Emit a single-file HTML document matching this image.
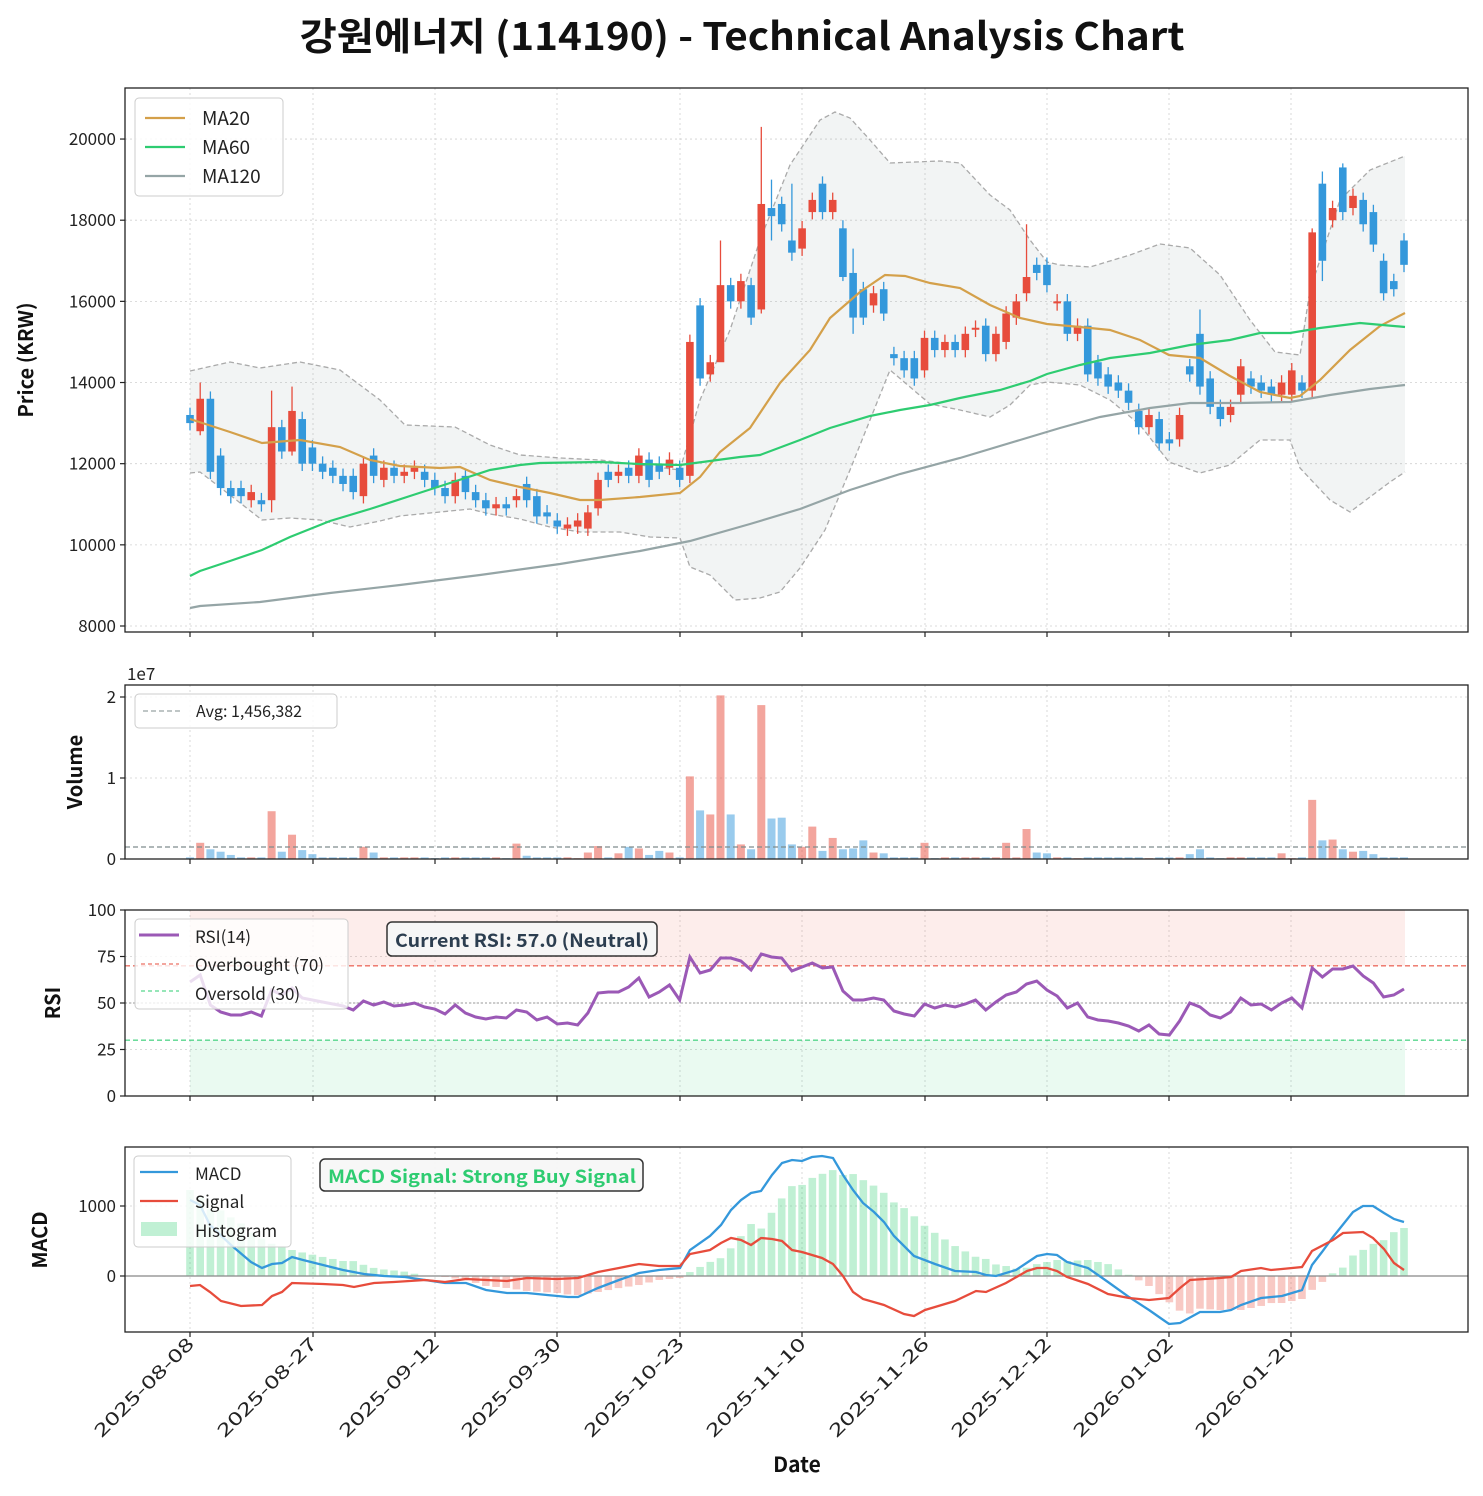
<!DOCTYPE html>
<html><head><meta charset="utf-8"><style>
body{margin:0;background:#fff}
svg text{font-family:"Noto Sans CJK KR","Liberation Sans",sans-serif}
</style></head><body>
<svg id="s" width="1483" height="1491" xmlns="http://www.w3.org/2000/svg"></svg>
<script>
const S=document.getElementById('s');let h='';
const N=120,x0=190,dx=(1404-190)/119;
const X=i=>x0+i*dx;
const py=p=>626-(p-8000)*0.04058;
const C=[[13200,13000],[12800,13600],[13600,11800],[12200,11400],[11400,11200],[11400,11200],[11100,11300],[11100,11000],[11100,12900],[12900,12300],[12300,13300],[13100,12000],[12400,12000],[12000,11800],[11900,11700],[11700,11500],[11700,11300],[11200,12000],[12200,11700],[11600,11900],[11900,11700],[11700,11800],[11800,11900],[11800,11600],[11600,11400],[11400,11200],[11200,11600],[11700,11300],[11300,11100],[11100,10900],[10900,11000],[11000,10900],[11100,11200],[11500,11100],[11200,10700],[10800,10700],[10600,10450],[10400,10500],[10450,10600],[10400,10800],[10900,11600],[11800,11600],[11700,11800],[11900,11700],[11700,12200],[12100,11600],[12000,11800],[11900,12100],[11900,11600],[11700,15000],[15900,14100],[14200,14500],[14500,16400],[16400,16000],[16000,16500],[16400,15600],[15800,18400],[18300,18100],[18400,17900],[17500,17200],[17300,17800],[18200,18500],[18900,18200],[18200,18500],[17800,16600],[16700,15600],[16300,15600],[15900,16200],[16300,15700],[14700,14600],[14600,14300],[14600,14100],[14300,15100],[15100,14800],[14800,15000],[15000,14800],[14800,15200],[15300,15350],[15400,14700],[14700,15200],[15000,15700],[15600,16000],[16200,16600],[16900,16700],[16900,16400],[15950,16000],[16000,15200],[15200,15400],[15400,14200],[14500,14100],[14200,13900],[14000,13800],[13800,13500],[13300,12900],[12900,13200],[13100,12500],[12600,12500],[12600,13200],[14400,14200],[15200,13900],[14100,13400],[13400,13100],[13200,13400],[13700,14400],[14100,13900],[14000,13800],[13900,13700],[13700,14000],[13700,14300],[14000,13800],[13800,17700],[18900,17000],[18000,18300],[19300,18200],[18300,18600],[18500,17900],[18200,17400],[17000,16200],[16500,16300],[17500,16900]];
const HL={1:[14000,12700],8:[13800,10800],10:[13900,12200],52:[17500,15200],56:[20300,15700],57:[19000,17500],59:[18900,17000],64:[18000,16500],65:[17300,15200],82:[17900,16000],99:[15800,13700],110:[17800,13600],111:[19200,16500],113:[19400,18000]};
function pl(pts,st){return `<polyline fill="none" points="${pts.map(p=>p.join(',')).join(' ')}" ${st}/>`}
function poly(pts,st){return `<polygon points="${pts.map(p=>p.join(',')).join(' ')}" ${st}/>`}
const P=[[88,632],[685,859],[910,1096],[1147,1332]];
const L=125,R=1468,ticks=[[190,'2025-08-08'],[313,'2025-08-27'],[435,'2025-09-12'],[557,'2025-09-30'],[680,'2025-10-23'],[802,'2025-11-10'],[925,'2025-11-26'],[1047,'2025-12-12'],[1169,'2026-01-02'],[1291,'2026-01-20']];
const grid='stroke="#d0d0d0" stroke-width="0.8" stroke-dasharray="2,3"';
function hg(y){h+=`<line x1="${L}" x2="${R}" y1="${y}" y2="${y}" ${grid}/>`}
P.forEach(([t,b])=>{ticks.forEach(([x])=>h+=`<line x1="${x}" x2="${x}" y1="${t}" y2="${b}" ${grid}/>`)});
const up=[[190,371],[230,362],[260,368],[300,362],[340,370],[380,400],[405,425],[455,427],[490,445],[520,455],[560,458],[600,460],[640,465],[680,470],[700,400],[730,330],[760,240],[790,165],[820,120],[835,112],[850,118],[870,140],[890,163],[940,161],[960,163],[990,195],[1010,210],[1030,240],[1047,262],[1060,265],[1090,267],[1130,255],[1160,244],[1190,248],[1220,275],[1250,320],[1275,352],[1300,355],[1310,290],[1340,200],[1370,170],[1405,156]];
const lo=[[190,473],[200,472],[230,495],[262,520],[290,518],[320,520],[350,527],[380,521],[400,516],[440,512],[470,509],[490,514],[520,519],[550,527],[580,532],[620,532],[650,537],[680,538],[690,567],[710,575],[735,600],[760,598],[780,592],[800,568],[825,530],[850,470],[870,420],[890,370],[930,404],[960,410],[990,417],[1010,405],[1030,385],[1047,382],[1080,385],[1110,400],[1140,425],[1169,462],[1200,473],[1230,465],[1260,440],[1290,440],[1300,468],[1330,500],[1350,512],[1370,497],[1390,482],[1405,472]];
[8000,10000,12000,14000,16000,18000,20000].forEach(v=>hg(py(v)));
h+=poly(up.concat(lo.slice().reverse()),'fill="#95a5a6" fill-opacity="0.12"');
h+=pl(up,'stroke="#aaa" stroke-width="1.3" stroke-dasharray="5,3"')+pl(lo,'stroke="#aaa" stroke-width="1.3" stroke-dasharray="5,3"');
C.forEach(([o,c],i)=>{const x=X(i),r=c>=o,col=r?'#e74c3c':'#3498db';let [hi,lw]=HL[i]||[Math.max(o,c)+180,Math.min(o,c)-180];
h+=`<line x1="${x}" x2="${x}" y1="${py(hi)}" y2="${py(lw)}" stroke="${col}" stroke-width="1.3"/>`;
const y1=py(Math.max(o,c)),y2=py(Math.min(o,c));h+=`<rect x="${x-3.8}" y="${y1}" width="7.6" height="${Math.max(1.5,y2-y1)}" fill="${col}"/>`});
const ma20=[[190,419],[230,432],[262,443],[300,440],[340,447],[370,460],[400,466],[440,468],[460,467],[490,480],[520,487],[550,493],[580,500],[600,500],[640,497],[680,493],[700,477],[720,452],[750,428],[780,383],[810,350],[830,318],[860,292],[885,275],[905,276],[930,283],[960,288],[990,305],[1020,318],[1047,324],[1080,327],[1110,330],[1140,340],[1169,355],[1200,358],[1230,376],[1260,392],[1290,398],[1300,396],[1320,380],[1350,350],[1380,326],[1405,313]];
const ma60=[[190,576],[200,571],[230,561],[262,550],[290,537],[330,521],[370,509],[410,496],[450,483],[490,470],[520,465],[540,463],[600,462],[640,464],[680,465],[710,461],[740,457],[760,455],[800,440],[830,428],[870,416],[900,410],[930,405],[960,398],[1000,390],[1030,381],[1047,374],[1080,365],[1110,358],[1150,353],[1190,345],[1230,340],[1260,333],[1290,333],[1320,328],[1360,323],[1405,327]];
const ma120=[[190,608],[200,606],[260,602],[330,593],[400,585],[480,575],[560,564],[640,551],[690,541],[750,524],[800,509],[850,490],[900,474],[960,458],[1020,440],[1060,428],[1100,417],[1150,408],[1190,403],[1240,403],[1290,402],[1330,395],[1370,389],[1405,385]];
h+=pl(ma20,'stroke="#d4a04a" stroke-width="2.2"')+pl(ma60,'stroke="#2ecc71" stroke-width="2.2"')+pl(ma120,'stroke="#95a5a6" stroke-width="2.2"');
h+=`<rect x="135" y="98" width="148" height="98" rx="4" fill="#fff" fill-opacity="0.85" stroke="#ccc"/>`;
[['MA20','#d4a04a'],['MA60','#2ecc71'],['MA120','#95a5a6']].forEach(([t,c],k)=>{const y=118+k*29;h+=`<line x1="145" x2="185" y1="${y}" y2="${y}" stroke="${c}" stroke-width="2.2"/><text x="202" y="${y+7}" font-size="19" fill="#222">${t}</text>`});
const vy=v=>859-v*8.1e-6;[0,1e7,2e7].forEach(v=>hg(vy(v)));
const VO={1:2e6,2:1.2e6,3:9e5,4:5e5,8:5.9e6,9:9e5,10:3e6,11:1.1e6,12:6e5,17:1.5e6,18:8e5,32:1.9e6,33:4e5,39:8e5,40:1.6e6,42:7e5,43:1.5e6,44:1.3e6,45:5e5,46:1e6,47:8e5,49:1.02e7,50:6e6,51:5.5e6,52:2.02e7,53:5.5e6,54:1.8e6,55:1.2e6,56:1.9e7,57:5e6,58:5.1e6,59:1.8e6,60:1.5e6,61:4e6,62:1e6,63:2.6e6,64:1.2e6,65:1.3e6,66:2.3e6,67:8e5,68:7e5,72:2e6,80:2e6,82:3.7e6,83:8e5,84:7e5,98:6e5,99:1.2e6,107:7e5,110:7.3e6,111:2.3e6,112:2.4e6,113:1.2e6,114:9e5,115:1e6,116:6e5};
C.forEach(([o,c],i)=>{const v=VO[i]||(i%7==3?1e5:2e5);const x=X(i);h+=`<rect x="${x-4}" y="${vy(v)}" width="8" height="${859-vy(v)}" fill="${c>=o?'#e74c3c':'#3498db'}" fill-opacity="0.5"/>`});
h+=`<line x1="${L}" x2="${R}" y1="847" y2="847" stroke="#7f8c8d" stroke-width="1.2" stroke-dasharray="5,3"/>`;
h+=`<rect x="135" y="694" width="202" height="34" rx="4" fill="#fff" fill-opacity="0.85" stroke="#ccc"/><line x1="143" x2="180" y1="711" y2="711" stroke="#7f8c8d" stroke-dasharray="5,3"/><text x="196" y="717" font-size="16" fill="#222">Avg: 1,456,382</text>`;
h+=`<text x="127" y="680" font-size="17" fill="#222">1e7</text>`;
const ry=v=>1096-v*1.86;[0,25,50,75,100].forEach(v=>hg(ry(v)));
h+=`<rect x="190" y="${ry(100)}" width="1215" height="${ry(70)-ry(100)}" fill="#e74c3c" fill-opacity="0.1"/><rect x="190" y="${ry(30)}" width="1215" height="${ry(0)-ry(30)}" fill="#2ecc71" fill-opacity="0.1"/>`;
h+=`<line x1="${L}" x2="${R}" y1="${ry(70)}" y2="${ry(70)}" stroke="#e74c3c" stroke-opacity="0.8" stroke-width="1.3" stroke-dasharray="5,3"/><line x1="${L}" x2="${R}" y1="${ry(30)}" y2="${ry(30)}" stroke="#2ecc71" stroke-opacity="0.8" stroke-width="1.3" stroke-dasharray="5,3"/><line x1="${L}" x2="${R}" y1="${ry(50)}" y2="${ry(50)}" stroke="#999" stroke-width="1" stroke-dasharray="2,2"/>`;
const RS=[982,975,1005,1012,1015,1015,1012,1016,990,995,988,998,1000,1002,1004,1006,1010,1001,1005,1002,1006,1005,1003,1007,1009,1014,1005,1013,1017,1019,1017,1018,1010,1012,1020,1017,1024,1023,1025,1013,993,992,992,987,978,997,992,985,1000,957,973,970,958,958,961,970,954,957,958,971,967,963,968,967,991,1000,1000,998,1000,1011,1014,1016,1004,1008,1005,1007,1004,1000,1010,1002,995,992,984,981,990,996,1008,1003,1017,1020,1021,1023,1026,1031,1025,1034,1035,1021,1003,1007,1015,1018,1012,998,1005,1004,1010,1003,998,1008,968,977,969,969,966,976,983,997,995,989];
h+=pl(RS.map((y,i)=>[X(i),y]),'stroke="#9b59b6" stroke-width="3"');
h+=`<rect x="135" y="919" width="213" height="90" rx="4" fill="#fff" fill-opacity="0.8" stroke="#ccc"/>`;
h+=`<line x1="139" x2="179" y1="935" y2="935" stroke="#9b59b6" stroke-width="3"/><text x="195" y="943" font-size="17" fill="#222">RSI(14)</text>`;
h+=`<line x1="141" x2="179" y1="964" y2="964" stroke="#e74c3c" stroke-dasharray="4,3"/><text x="195" y="971" font-size="17" fill="#222">Overbought (70)</text>`;
h+=`<line x1="141" x2="179" y1="991" y2="991" stroke="#2ecc71" stroke-dasharray="4,3"/><text x="195" y="1000" font-size="17" fill="#222">Oversold (30)</text>`;
h+=`<rect x="387" y="922" width="270" height="34" rx="5" fill="#f6f6f6" stroke="#333" stroke-width="1.5"/><text x="522" y="947" font-size="18" font-weight="bold" fill="#2c3e50" text-anchor="middle" textLength="254" lengthAdjust="spacingAndGlyphs">Current RSI: 57.0 (Neutral)</text>`;
[1206,1276].forEach(hg);
const M=[[190,1200],[200,1205],[210,1225],[231,1245],[251,1262],[262,1268],[272,1264],[282,1263],[292,1257],[303,1260],[323,1265],[343,1270],[364,1274],[384,1276],[405,1277],[425,1280],[445,1283],[466,1283],[486,1290],[507,1293],[527,1293],[547,1295],[568,1297],[578,1297],[598,1288],[619,1280],[639,1273],[659,1270],[680,1268],[690,1250],[710,1236],[721,1225],[731,1210],[741,1200],[751,1193],[761,1191],[772,1175],[782,1163],[792,1160],[802,1161],[812,1157],[822,1156],[833,1158],[843,1175],[853,1190],[863,1203],[874,1212],[884,1222],[894,1236],[914,1256],[935,1264],[955,1271],[976,1272],[986,1275],[996,1276],[1016,1270],[1037,1256],[1047,1254],[1057,1255],[1067,1262],[1088,1268],[1108,1282],[1129,1297],[1149,1310],[1159,1317],[1169,1324],[1180,1323],[1200,1312],[1220,1312],[1231,1310],[1241,1305],[1261,1298],[1282,1296],[1292,1293],[1302,1290],[1312,1265],[1322,1252],[1333,1237],[1353,1212],[1363,1206],[1373,1206],[1384,1213],[1394,1219],[1404,1222]];
const G=[[190,1286],[200,1285],[210,1292],[221,1301],[241,1306],[262,1305],[272,1296],[282,1292],[292,1283],[323,1284],[343,1285],[354,1287],[374,1283],[394,1282],[425,1280],[445,1282],[466,1279],[507,1281],[527,1278],[557,1279],[578,1278],[588,1275],[598,1272],[619,1268],[639,1264],[659,1266],[680,1266],[690,1254],[710,1250],[721,1243],[731,1238],[741,1240],[751,1245],[761,1238],[772,1239],[782,1241],[792,1250],[802,1252],[822,1258],[833,1264],[843,1276],[853,1292],[863,1299],[884,1305],[904,1314],[914,1316],[925,1310],[935,1307],[955,1301],[976,1291],[986,1292],[1006,1283],[1027,1271],[1037,1268],[1047,1268],[1057,1271],[1067,1277],[1088,1284],[1108,1294],[1129,1298],[1149,1300],[1169,1298],[1180,1288],[1190,1280],[1220,1278],[1231,1277],[1241,1271],[1261,1268],[1271,1270],[1282,1269],[1302,1267],[1312,1251],[1333,1240],[1343,1233],[1363,1232],[1373,1238],[1384,1249],[1394,1263],[1404,1270]];
function it(a,x){for(let k=0;k<a.length-1;k++){if(x<=a[k+1][0]){const t=(x-a[k][0])/(a[k+1][0]-a[k][0]);return a[k][1]+t*(a[k+1][1]-a[k][1])}}return a[a.length-1][1]}
for(let i=0;i<N;i++){const x=X(i);const d=it(G,x)-it(M,x);const y=d>0?1276-d:1276;h+=`<rect x="${x-3.8}" y="${y}" width="7.6" height="${Math.abs(d)}" fill="${d>0?'#2ecc71':'#e74c3c'}" fill-opacity="0.3"/>`}
h+=`<line x1="${L}" x2="${R}" y1="1276" y2="1276" stroke="#888" stroke-width="1.2"/>`;
h+=pl(M,'stroke="#3498db" stroke-width="2.3"')+pl(G,'stroke="#e74c3c" stroke-width="2.3"');
h+=`<rect x="134" y="1156" width="157" height="91" rx="4" fill="#fff" fill-opacity="0.8" stroke="#ccc"/>`;
h+=`<line x1="140" x2="178" y1="1172" y2="1172" stroke="#3498db" stroke-width="2.3"/><text x="195" y="1180" font-size="17" fill="#222">MACD</text>`;
h+=`<line x1="140" x2="178" y1="1201" y2="1201" stroke="#e74c3c" stroke-width="2.3"/><text x="195" y="1208" font-size="17" fill="#222">Signal</text>`;
h+=`<rect x="141" y="1222" width="36" height="14" fill="#2ecc71" fill-opacity="0.3"/><text x="195" y="1237" font-size="17" fill="#222">Histogram</text>`;
h+=`<rect x="320" y="1159" width="323" height="32" rx="5" fill="#f6f6f6" fill-opacity="0.9" stroke="#333" stroke-width="1.5"/><text x="482" y="1183" font-size="18" font-weight="bold" fill="#2ecc71" text-anchor="middle" textLength="308" lengthAdjust="spacingAndGlyphs">MACD Signal: Strong Buy Signal</text>`;
P.forEach(([t,b])=>{h+=`<rect x="${L}" y="${t}" width="${R-L}" height="${b-t}" fill="none" stroke="#222" stroke-width="1.3"/>`;ticks.forEach(([x])=>h+=`<line x1="${x}" x2="${x}" y1="${b}" y2="${b+5}" stroke="#222" stroke-width="1.2"/>`)});
function yl(y,t){h+=`<line x1="${L-5}" x2="${L}" y1="${y}" y2="${y}" stroke="#222" stroke-width="1.2"/><text x="${L-9}" y="${y+6}" font-size="17" fill="#222" text-anchor="end">${t}</text>`}
[8000,10000,12000,14000,16000,18000,20000].forEach(v=>yl(py(v),v));
yl(859,0);yl(778,1);yl(697,2);
[0,25,50,75,100].forEach(v=>yl(ry(v),v));
yl(1276,0);yl(1206,1000);
function al(x,y,t){h+=`<text transform="translate(${x},${y}) rotate(-90)" font-size="20" font-weight="bold" text-anchor="middle" fill="#111">${t}</text>`}
al(33,360,'Price (KRW)');al(82,772,'Volume');al(60,1003,'RSI');al(47,1240,'MACD');
ticks.forEach(([x,t])=>h+=`<text transform="translate(${x+5},${1345}) rotate(-45)" font-size="18" text-anchor="end" fill="#222" textLength="132" lengthAdjust="spacingAndGlyphs">${t}</text>`);
h+=`<text x="797" y="1472" font-size="21" font-weight="bold" text-anchor="middle" fill="#111">Date</text>`;
h+=`<text x="742" y="50" font-size="38" font-weight="bold" text-anchor="middle" fill="#111" textLength="885" lengthAdjust="spacingAndGlyphs">강원에너지 (114190) - Technical Analysis Chart</text>`;
S.innerHTML=h;
</script>
</body></html>
